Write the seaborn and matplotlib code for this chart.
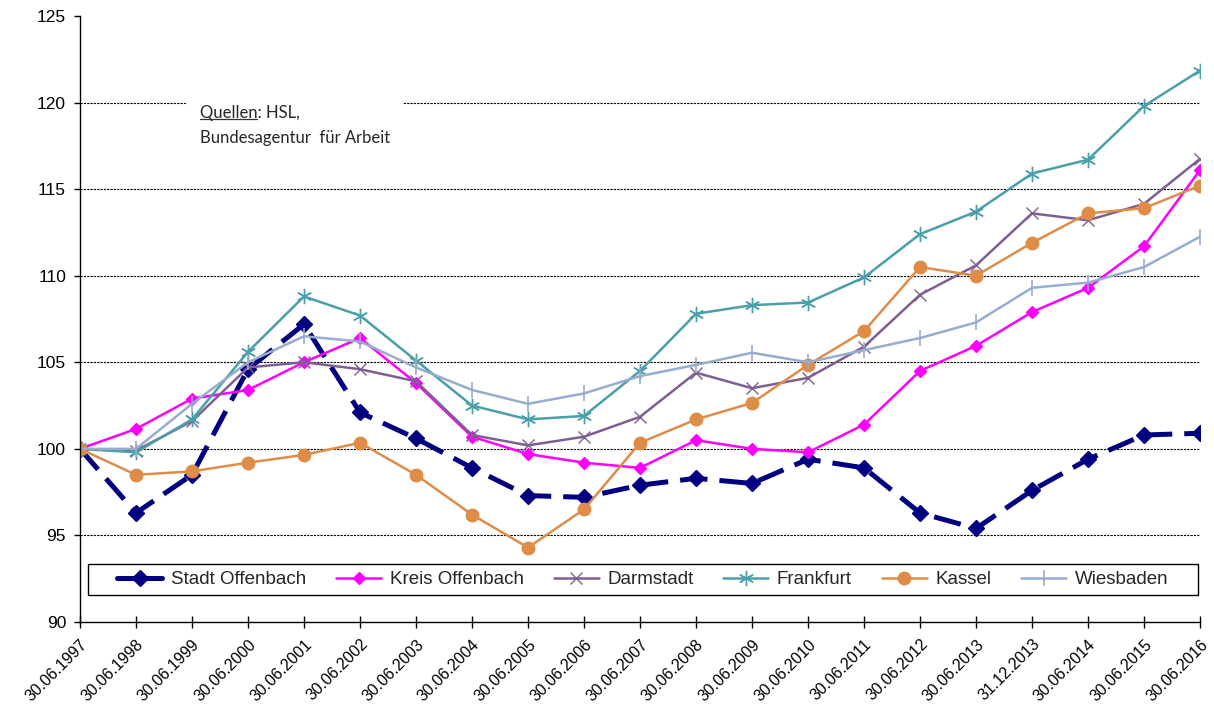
import matplotlib
matplotlib.use('Agg')
import matplotlib.pyplot as plt
from matplotlib.lines import Line2D
from matplotlib.patches import Rectangle
import seaborn as sns

# Stichtage
dates = ['30.06.1997', '30.06.1998', '30.06.1999', '30.06.2000', '30.06.2001',
         '30.06.2002', '30.06.2003', '30.06.2004', '30.06.2005', '30.06.2006',
         '30.06.2007', '30.06.2008', '30.06.2009', '30.06.2010', '30.06.2011',
         '30.06.2012', '30.06.2013', '31.12.2013', '30.06.2014', '30.06.2015',
         '30.06.2016']

# Index 30.06.1997 = 100
stadt_offenbach = [100.0, 96.3, 98.5, 104.6, 107.2, 102.1, 100.6, 98.9, 97.3, 97.2,
                   97.9, 98.3, 98.0, 99.4, 98.9, 96.3, 95.4, 97.6, 99.4, 100.8, 100.9]
kreis_offenbach = [100.0, 101.15, 102.9, 103.4, 105.0, 106.4, 103.8, 100.7, 99.7, 99.2,
                   98.9, 100.5, 100.0, 99.8, 101.4, 104.5, 105.95, 107.9, 109.3, 111.7, 116.1]
darmstadt = [100.0, 99.9, 101.6, 104.7, 105.0, 104.6, 103.9, 100.8, 100.2, 100.7,
             101.85, 104.4, 103.5, 104.1, 105.9, 108.9, 110.6, 113.6, 113.2, 114.15, 116.75]
frankfurt = [100.0, 99.8, 101.7, 105.6, 108.8, 107.7, 105.1, 102.5, 101.7, 101.9,
             104.5, 107.8, 108.3, 108.45, 109.9, 112.4, 113.7, 115.9, 116.7, 119.8, 121.85]
kassel = [100.0, 98.5, 98.7, 99.2, 99.65, 100.35, 98.5, 96.2, 94.3, 96.5,
          100.35, 101.7, 102.65, 104.85, 106.8, 110.5, 110.0, 111.9, 113.6, 113.9, 115.2]
wiesbaden = [100.0, 100.0, 102.6, 105.0, 106.5, 106.2, 104.7, 103.4, 102.6, 103.2,
             104.2, 104.85, 105.55, 105.0, 105.7, 106.4, 107.3, 109.3, 109.6, 110.5, 112.25]

sns.set_style('white')
plt.rcParams['font.family'] = ['Liberation Sans', 'DejaVu Sans']

fig = plt.figure(figsize=(12.14, 7.16), dpi=100)
ax = fig.add_axes([0.0659, 0.1313, 0.9226, 0.8464])

x = list(range(len(dates)))
series = [
    # name, values, colour, marker, markersize, linewidth, linestyle, mew
    ('Stadt Offenbach', stadt_offenbach, '#000080', 'D', 8.5, 3.6, (0, (5.5, 2.4)), 1),
    ('Kreis Offenbach', kreis_offenbach, '#FF00FF', 'D', 6.5, 1.8, '-', 1),
    ('Darmstadt', darmstadt, '#7E5F91', 'x', 9, 1.8, '-', 1),
    ('Frankfurt', frankfurt, '#4A9FA9', (6, 2, 0), 11, 1.8, '-', 1),
    ('Kassel', kassel, '#DE8C48', 'o', 9, 1.8, '-', 1),
    ('Wiesbaden', wiesbaden, '#98ACCE', '|', 11, 1.8, '-', 1.2),
]
for name, vals, color, marker, ms, lw, ls, mew in series:
    sns.lineplot(x=x, y=vals, ax=ax, color=color, marker=marker, markersize=ms,
                 linewidth=lw, linestyle=ls, markeredgecolor=color,
                 markeredgewidth=mew, label=name, sort=False, estimator=None)

ax.set_xlim(0, len(dates) - 1)
ax.set_ylim(90, 125)
ax.set_yticks(range(90, 126, 5))
ax.set_xticks(x)
ax.set_xticklabels(dates, rotation=45, ha='right', va='top', rotation_mode='anchor')
ax.set_xlabel('')
ax.set_ylabel('')

# gestrichelte Gitterlinien
ax.yaxis.grid(True, linestyle=(0, (2, 1)), color='black', linewidth=0.8)
gl = ax.get_ygridlines()
gl[0].set_visible(False)
gl[-1].set_visible(False)
ax.set_axisbelow(True)

for s in ['top', 'right']:
    ax.spines[s].set_visible(False)
for s in ['left', 'bottom']:
    ax.spines[s].set_color('black')
    ax.spines[s].set_linewidth(1)

ax.tick_params(axis='y', left=True, direction='out', length=4, width=1,
               labelsize=12.5, pad=6, colors='black')
ax.tick_params(axis='x', bottom=True, direction='inout', length=9, width=1,
               labelsize=11.5, pad=6, colors='black')

# Quellenangabe
src_kw = dict(fontfamily='Lato', fontsize=12, va='top', ha='left', linespacing=1.7)
ax.text(2.14, 119.85, 'Quellen: HSL,\nBundesagentur  für Arbeit',
        bbox=dict(facecolor='white', edgecolor='none', boxstyle='square,pad=0.8'),
        zorder=5, **src_kw)
word = ax.text(2.14, 119.85, 'Quellen', alpha=0, zorder=6, **src_kw)
fig.canvas.draw()
bb = word.get_window_extent()
fig.add_artist(Line2D([bb.x0, bb.x1], [bb.y0 + 2, bb.y0 + 2], transform=None,
                      color='#333333', linewidth=0.9, zorder=7))

# Legende mit Rahmen über die ganze Breite
ax.add_patch(Rectangle((0.007, 0.0443), 0.991, 0.0512, transform=ax.transAxes,
                       facecolor='white', edgecolor='black', linewidth=1, zorder=8))
leg = ax.legend(loc='center', bbox_to_anchor=(0.5025, 0.0699), ncol=6,
                frameon=False, fontsize=13.5, handlelength=2.4,
                handletextpad=0.45, columnspacing=1.6, borderpad=0, borderaxespad=0)
leg.set_zorder(9)
leg.get_lines()[0].set_linestyle('-')

plt.savefig('out.png', dpi=100)
